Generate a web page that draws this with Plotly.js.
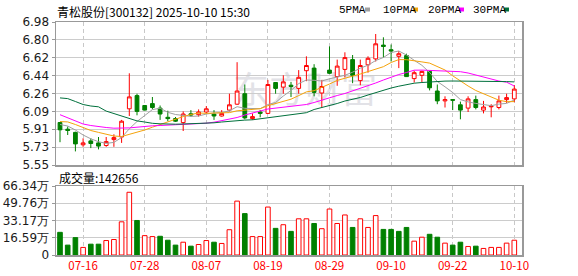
<!DOCTYPE html>
<html><head><meta charset="utf-8">
<script src="https://cdn.plot.ly/plotly-3.0.1.min.js"></script>
<style>html,body{margin:0;padding:0;background:#fff;}#chart{width:578px;height:276px;}</style>
</head><body><div id="chart"></div>
<script>
const dates = ['07-11','07-14','07-15','07-16','07-17','07-18','07-21','07-22','07-23','07-24','07-25','07-28','07-29','07-30','07-31',
'08-01','08-04','08-05','08-06','08-07','08-08','08-11','08-12','08-13','08-14','08-15','08-18','08-19','08-20','08-21','08-22','08-25','08-26','08-27','08-28','08-29',
'09-01','09-02','09-03','09-04','09-05','09-08','09-09','09-10','09-11','09-12','09-15','09-16','09-17','09-18','09-19','09-22','09-23','09-24','09-25','09-26','09-29','09-30',
'10-09','10-10'];
const openP = [5.975,5.908,5.876,5.752,5.791,5.771,5.745,5.804,5.830,6.112,6.244,6.145,6.164,6.119,6.027,6.014,5.974,6.062,6.053,6.080,6.060,6.040,6.099,6.158,6.263,6.014,6.080,6.066,6.375,6.329,6.348,6.316,6.493,6.519,6.270,6.499,6.434,6.506,6.604,6.394,6.552,6.611,6.749,6.703,6.637,6.644,6.414,6.447,6.486,6.290,6.191,6.204,6.152,6.119,6.204,6.099,6.132,6.125,6.204,6.211];
const highP = [5.980,5.935,5.883,5.817,5.817,5.830,5.830,5.857,6.001,6.467,6.263,6.150,6.230,6.145,6.093,6.030,6.086,6.099,6.106,6.139,6.099,6.099,6.263,6.578,6.355,6.066,6.099,6.401,6.380,6.447,6.381,6.499,6.637,6.558,6.401,6.736,6.604,6.677,6.650,6.604,6.637,6.860,6.827,6.755,6.690,6.663,6.493,6.493,6.490,6.355,6.237,6.204,6.184,6.237,6.244,6.191,6.158,6.244,6.263,6.348];
const lowP = [5.778,5.850,5.686,5.732,5.719,5.706,5.732,5.732,5.771,6.040,6.047,6.095,6.106,6.001,5.988,5.980,5.890,6.034,6.034,6.066,6.001,6.034,6.086,6.152,6.007,6.001,6.027,6.060,6.263,6.263,6.230,6.263,6.388,6.237,6.125,6.460,6.342,6.427,6.368,6.348,6.473,6.585,6.624,6.585,6.519,6.430,6.375,6.375,6.296,6.158,6.125,6.099,6.007,6.080,6.106,6.066,6.027,6.106,6.171,6.178];
const closeP = [5.902,5.895,5.761,5.771,5.765,5.739,5.784,5.824,5.988,6.231,6.086,6.099,6.125,6.060,6.014,5.988,6.060,6.050,6.080,6.112,6.040,6.066,6.152,6.290,6.021,6.034,6.066,6.355,6.316,6.381,6.335,6.427,6.545,6.276,6.335,6.467,6.539,6.624,6.447,6.545,6.617,6.762,6.736,6.690,6.663,6.434,6.473,6.486,6.322,6.191,6.204,6.198,6.099,6.211,6.125,6.130,6.138,6.191,6.224,6.309];
// volume in 万
const volume = [21.8,9.5,16.7,7.3,10.4,10.4,13.9,14.9,31.9,60.3,33.2,18.6,17.7,18.0,14.2,9.5,12.3,8.5,10.1,13.9,12.3,11.1,24.3,51.8,39.8,17.7,17.7,46.1,25.6,29.1,22.7,34.8,34.8,30.3,25.3,44.2,30.3,38.5,26.5,34.8,26.5,37.9,24.6,24.6,22.7,26.5,13.3,17.1,19.9,17.1,11.4,9.5,12.3,8.2,8.5,6.3,7.3,7.3,11.4,14.2];
const ma5 = [5.955,5.940,5.900,5.850,5.812,5.783,5.766,5.776,5.825,5.912,5.985,6.044,6.104,6.118,6.077,6.055,6.046,6.036,6.040,6.060,6.070,6.074,6.092,6.133,6.117,6.113,6.113,6.155,6.175,6.240,6.295,6.364,6.400,6.397,6.390,6.412,6.430,6.447,6.478,6.518,6.548,6.595,6.625,6.675,6.690,6.650,6.597,6.547,6.475,6.385,6.332,6.275,6.204,6.181,6.166,6.154,6.143,6.159,6.166,6.200];
const ma10 = [5.984,5.981,5.955,5.925,5.895,5.876,5.855,5.840,5.835,5.855,5.877,5.900,5.928,5.955,5.980,6.010,6.034,6.055,6.070,6.067,6.068,6.068,6.074,6.092,6.097,6.106,6.113,6.143,6.165,6.188,6.208,6.244,6.281,6.293,6.323,6.360,6.396,6.421,6.439,6.460,6.486,6.510,6.533,6.575,6.604,6.603,6.595,6.581,6.569,6.538,6.500,6.442,6.388,6.340,6.295,6.262,6.228,6.198,6.183,6.184];
const ma20 = [6.053,6.020,5.990,5.960,5.945,5.932,5.925,5.918,5.918,5.921,5.928,5.938,5.942,5.945,5.948,5.950,5.955,5.958,5.962,5.968,5.978,5.995,6.010,6.025,6.050,6.073,6.090,6.110,6.120,6.130,6.138,6.148,6.155,6.175,6.200,6.220,6.245,6.265,6.290,6.320,6.345,6.370,6.400,6.430,6.455,6.475,6.498,6.499,6.495,6.492,6.490,6.488,6.483,6.470,6.450,6.432,6.410,6.390,6.378,6.340];
const ma30 = [6.221,6.214,6.185,6.155,6.140,6.132,6.089,6.065,6.040,6.020,5.991,5.980,5.967,5.962,5.958,5.958,5.960,5.962,5.964,5.966,5.972,5.980,5.988,5.994,5.999,6.002,6.012,6.022,6.030,6.045,6.050,6.062,6.073,6.105,6.125,6.142,6.165,6.190,6.204,6.225,6.250,6.275,6.300,6.320,6.338,6.355,6.368,6.375,6.382,6.388,6.389,6.390,6.390,6.391,6.391,6.391,6.389,6.386,6.384,6.381];
const xTickLabels = ['07-16','07-28','08-07','08-19','08-29','09-10','09-22','10-10'];
const priceTickLabels = ['5.55','5.73','5.91','6.09','6.26','6.44','6.62','6.80','6.98'];
const volTickLabels = ['0','16.59万','33.17万','49.76万','66.34万'];
const stockName = '青松股份[300132]';
const stamp = '2025-10-10 15:30';
const lastVolume = 142656;
const maNames = ['5PMA','10PMA','20PMA','30PMA'];

const RED = '#ff0000', GREEN = '#008000';
const maColors = ['#a0a0a0','#f5a30a','#ff00ff','#00703c'];

const pMin = 5.55, pMax = 6.98, vMax = 66.34;
const priceTickVals = priceTickLabels.map((_, i) => pMin + i * (pMax - pMin) / (priceTickLabels.length - 1));
const volTickVals = volTickLabels.map((_, i) => i * vMax / (volTickLabels.length - 1));

const volUp = closeP.map((c, i) => i === 0 ? c >= openP[0] : c >= closeP[i - 1]);

const W = 578, H = 276;
const px = v => v / W, py = v => 1 - v / H;
const xDom = [px(56), px(522)];

const traces = [
  {type:'bar', x:dates, y:volume, xaxis:'x', yaxis:'y', width:0.6,
   marker:{color:volUp.map(u => u ? '#ffffff' : GREEN), line:{color:volUp.map(u => u ? RED : GREEN), width:1}},
   hoverinfo:'skip'},
  {type:'candlestick', x:dates, open:openP, high:highP, low:lowP, close:closeP, xaxis:'x2', yaxis:'y2',
   increasing:{line:{color:RED, width:1}, fillcolor:'#ffffff'},
   decreasing:{line:{color:GREEN, width:1}, fillcolor:GREEN},
   whiskerwidth:0, hoverinfo:'skip'},
];
[ma5, ma10, ma20, ma30].forEach((m, k) => traces.push({
  type:'scatter', mode:'lines', x:dates, y:m, xaxis:'x2', yaxis:'y2',
  line:{color:maColors[k], width:1}, hoverinfo:'skip'}));

const axisCommon = {showline:true, mirror:true, linecolor:'#999', linewidth:1.5};
const tickFont = {family:'DejaVu Sans', size:12, color:'#1a1a1a'};

const annotations = [
  {xref:'paper', yref:'paper', x:px(55), y:py(12), xanchor:'left', yanchor:'middle', showarrow:false,
   text: stockName + ' ' + stamp, font:{family:'Noto Sans CJK SC', size:12, color:'#000'}},
  {xref:'paper', yref:'paper', x:px(57), y:py(177), xanchor:'left', yanchor:'middle', showarrow:false,
   text: '成交量:' + lastVolume, font:{family:'Noto Sans CJK SC', size:12, color:'#000'}},
];
const legendX = [337, 381, 426, 471];
const squareX = [365, 413, 459, 504];
const shapes = [];
maNames.forEach((n, k) => {
  annotations.push({xref:'paper', yref:'paper', x:px(legendX[k]), y:py(10), xanchor:'left', yanchor:'middle', showarrow:false,
    text:n, font:{family:'Liberation Mono', size:11, color:'#000'}});
  shapes.push({type:'rect', xref:'paper', yref:'paper', x0:px(squareX[k]), x1:px(squareX[k] + 5), y0:py(11.5), y1:py(7.5),
    fillcolor:maColors[k], line:{width:0}});
});
shapes.push({type:'rect', xref:'paper', yref:'paper', x0:px(230), x1:px(380), y0:py(112), y1:py(74), layer:'below',
  line:{width:0}, fillcolor:'rgba(0,0,0,0)',
  label:{text:'东方财富', textposition:'middle center', font:{family:'Noto Sans CJK SC', size:36, color:'#e2e2e7'}}});

const layout = {
  width:W, height:H, margin:{l:0, r:0, t:0, b:0}, paper_bgcolor:'#fff', plot_bgcolor:'rgba(0,0,0,0)',
  showlegend:false, boxgap:0.3, bargap:0.4, hovermode:false,
  xaxis: Object.assign({}, axisCommon, {domain:xDom, anchor:'y', type:'category', range:[-0.52, 60.0],
    tickmode:'array', tickvals:xTickLabels, ticktext:xTickLabels, ticks:'',
    showgrid:true, gridcolor:'#c8c8c8', griddash:'4px,3px', gridwidth:1,
    tickfont:{family:'Noto Sans CJK SC', size:11.5, color:RED}, fixedrange:true, rangeslider:{visible:false}}),
  xaxis2: Object.assign({}, axisCommon, {domain:xDom, anchor:'y2', matches:'x', type:'category',
    tickmode:'array', tickvals:xTickLabels, showticklabels:false, ticks:'',
    showgrid:true, gridcolor:'#c8c8c8', griddash:'4px,3px', gridwidth:1, rangeslider:{visible:false}}),
  yaxis: Object.assign({}, axisCommon, {domain:[py(255), py(186)], anchor:'x', range:[0, vMax],
    tickmode:'array', tickvals:volTickVals, ticktext:volTickLabels, ticks:'outside', ticklen:3, tickcolor:'#999',
    showgrid:true, gridcolor:'#cccccc', zeroline:false, tickfont:tickFont}),
  yaxis2: Object.assign({}, axisCommon, {domain:[py(165), py(22)], anchor:'x2', range:[pMin, pMax],
    tickmode:'array', tickvals:priceTickVals, ticktext:priceTickLabels, ticks:'outside', ticklen:3, tickcolor:'#999',
    showgrid:true, gridcolor:'#cccccc', zeroline:false, tickfont:tickFont}),
  annotations: annotations,
  shapes: shapes,
};
Plotly.newPlot('chart', traces, layout, {staticPlot:true, displayModeBar:false});
</script></body></html>
